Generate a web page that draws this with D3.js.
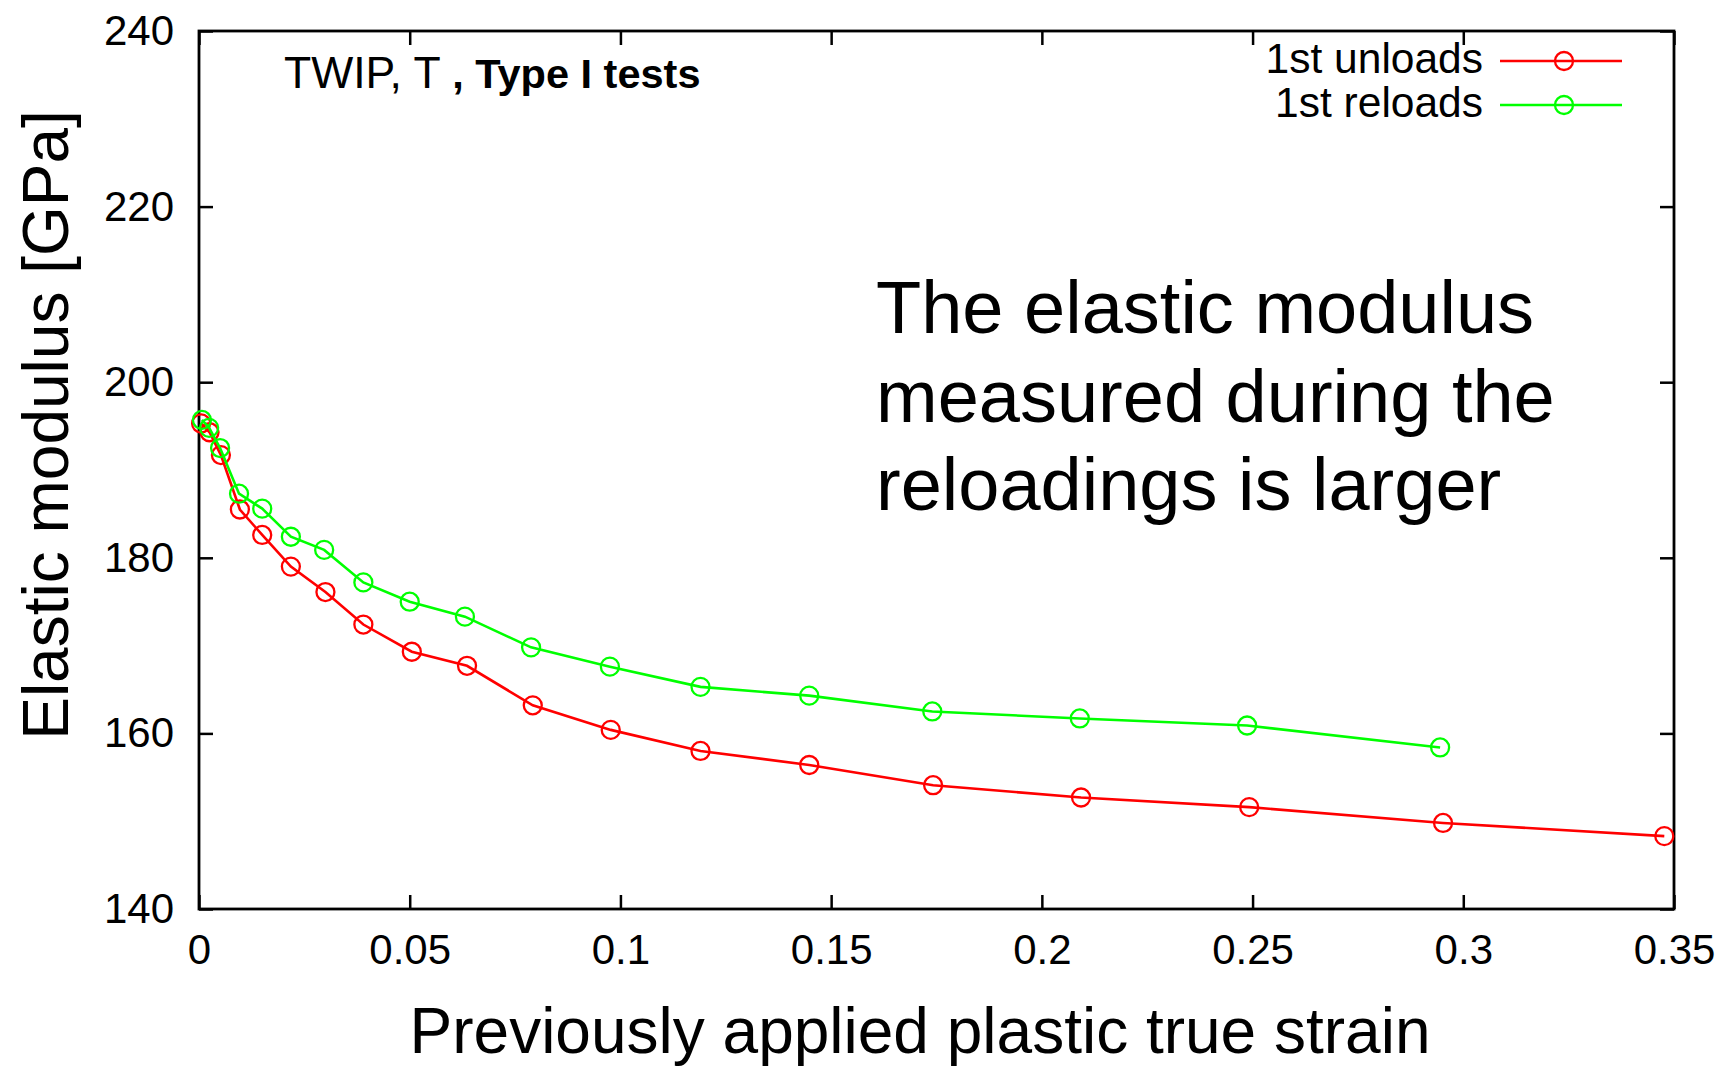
<!DOCTYPE html>
<html>
<head>
<meta charset="utf-8">
<script src="https://cdn.jsdelivr.net/npm/d3@7"></script>
<style>
  html, body { margin: 0; padding: 0; background: #fff; }
  svg { display: block; font-family: "Liberation Sans", Arial, sans-serif; }
</style>
</head>
<body>
<svg id="chart" width="1727" height="1067"></svg>
<script>
// Previously applied plastic true strain at each unload/reload cycle
const strainUnload = [0.0005, 0.0025, 0.0052, 0.0097, 0.015, 0.0218, 0.030, 0.039, 0.0505, 0.0636, 0.0792, 0.0977, 0.119, 0.1448, 0.1742, 0.2093, 0.2492, 0.2952, 0.3477];
const strainReload = [0.0007, 0.0024, 0.005, 0.0095, 0.015, 0.0218, 0.0297, 0.039, 0.050, 0.0631, 0.0788, 0.0975, 0.119, 0.1448, 0.174, 0.209, 0.2487, 0.2945];

// Elastic modulus [GPa]
const modulusUnload = [195.3, 194.3, 191.7, 185.5, 182.6, 179.0, 176.1, 172.4, 169.3, 167.7, 163.2, 160.4, 158.0, 156.4, 154.1, 152.7, 151.6, 149.8, 148.3];
const modulusReload = [195.7, 194.8, 192.5, 187.3, 185.6, 182.4, 180.9, 177.2, 175.0, 173.3, 169.8, 167.6, 165.3, 164.3, 162.5, 161.7, 160.9, 158.4];

const seriesNames = ["1st unloads", "1st reloads"];
const seriesColors = ["#ff0000", "#00ff00"];

const xTicks = [0, 0.05, 0.1, 0.15, 0.2, 0.25, 0.3, 0.35];
const xTickLabels = ["0", "0.05", "0.1", "0.15", "0.2", "0.25", "0.3", "0.35"];
const yTicks = [140, 160, 180, 200, 220, 240];

const titleNormal = "TWIP, T ";
const titleBold = ", Type I tests";
const noteLines = ["The elastic modulus", "measured during the", "reloadings is larger"];

const svg = d3.select("#chart");
const margin = { left: 199, top: 31, right: 1674, bottom: 909 };

const x = d3.scaleLinear().domain([0, 0.35]).range([margin.left, margin.right]);
const y = d3.scaleLinear().domain([140, 240]).range([margin.bottom, margin.top]);

const tickLen = 14;

// Axes with inward ticks on all four sides
const gLeft = svg.append("g").attr("transform", `translate(${margin.left},0)`)
  .call(d3.axisLeft(y).tickValues(yTicks).tickSize(-tickLen).tickPadding(25));
const gBottom = svg.append("g").attr("transform", `translate(0,${margin.bottom})`)
  .call(d3.axisBottom(x).tickValues(xTicks).tickSize(-tickLen).tickPadding(25)
    .tickFormat((d, i) => xTickLabels[i]));
const gRight = svg.append("g").attr("transform", `translate(${margin.right},0)`)
  .call(d3.axisRight(y).tickValues(yTicks).tickSize(-tickLen).tickFormat(""));
const gTop = svg.append("g").attr("transform", `translate(0,${margin.top})`)
  .call(d3.axisTop(x).tickValues(xTicks).tickSize(-tickLen).tickFormat(""));

[gLeft, gBottom, gRight, gTop].forEach(g => {
  g.select(".domain").remove();
  g.selectAll(".tick line").attr("stroke", "#000").attr("stroke-width", 2.5);
  g.selectAll(".tick text").attr("fill", "#000")
    .style("font-family", "'Liberation Sans', Arial, sans-serif")
    .style("font-size", "42px");
});

// Plot frame
svg.append("rect")
  .attr("x", margin.left).attr("y", margin.top)
  .attr("width", margin.right - margin.left).attr("height", margin.bottom - margin.top)
  .attr("fill", "none").attr("stroke", "#000").attr("stroke-width", 2.8);

// Data series: line with open circle markers
const series = [
  { xs: strainUnload, ys: modulusUnload },
  { xs: strainReload, ys: modulusReload }
];

const line = d3.line().x(d => x(d[0])).y(d => y(d[1]));

series.forEach((s, i) => {
  const pts = s.xs.map((v, k) => [v, s.ys[k]]);
  svg.append("path").datum(pts)
    .attr("d", line).attr("fill", "none")
    .attr("stroke", seriesColors[i]).attr("stroke-width", 2.6);
  svg.append("g").selectAll("circle").data(pts).join("circle")
    .attr("cx", d => x(d[0])).attr("cy", d => y(d[1])).attr("r", 9)
    .attr("fill", "none").attr("stroke", seriesColors[i]).attr("stroke-width", 2.3);
});

// Legend (top right)
const legendRows = [73, 117];
seriesNames.forEach((name, i) => {
  const by = legendRows[i];
  const ly = by - 12;
  svg.append("text").attr("x", 1483).attr("y", by)
    .attr("text-anchor", "end").attr("font-size", 42.5).attr("fill", "#000").text(name);
  svg.append("line").attr("x1", 1500).attr("x2", 1622).attr("y1", ly).attr("y2", ly)
    .attr("stroke", seriesColors[i]).attr("stroke-width", 2.6);
  svg.append("circle").attr("cx", 1564).attr("cy", ly).attr("r", 9)
    .attr("fill", "none").attr("stroke", seriesColors[i]).attr("stroke-width", 2.3);
});

// Title inside the plot
const title = svg.append("text").attr("x", 284).attr("y", 88).attr("fill", "#000");
title.append("tspan").attr("font-size", 44.5).text(titleNormal);
title.append("tspan").attr("font-size", 41.5).attr("font-weight", "bold").text(titleBold);

// Annotation
noteLines.forEach((t, i) => {
  svg.append("text").attr("x", 876).attr("y", [333, 422, 510][i])
    .attr("font-size", 74).attr("fill", "#000").text(t);
});

// Axis titles
svg.append("text").attr("x", 920).attr("y", 1053)
  .attr("text-anchor", "middle").attr("font-size", 64).attr("fill", "#000")
  .text("Previously applied plastic true strain");

svg.append("text").attr("transform", "translate(68,425) rotate(-90)")
  .attr("text-anchor", "middle").attr("font-size", 64).attr("fill", "#000")
  .text("Elastic modulus [GPa]");
</script>
</body>
</html>
